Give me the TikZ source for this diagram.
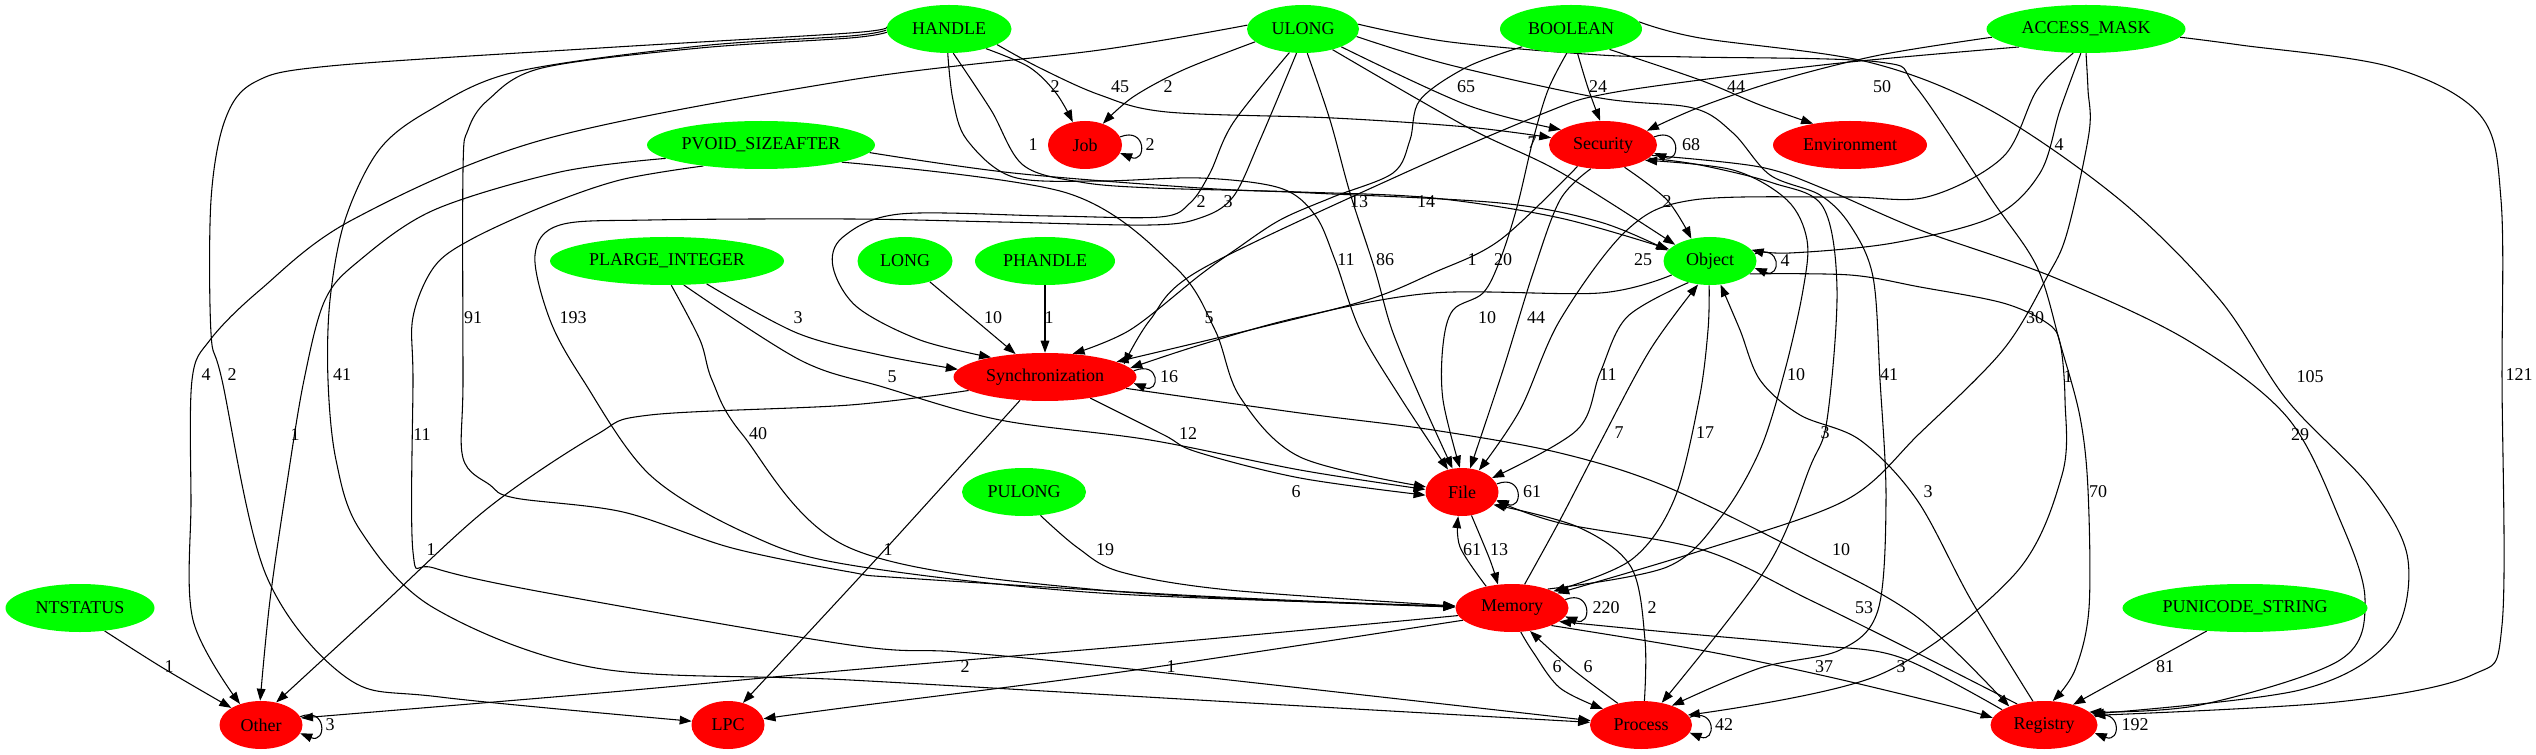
\documentclass[tikz,border=0pt]{standalone}
\usepackage{fontspec}
\setmainfont{Liberation Serif}
\usetikzlibrary{shapes.geometric,arrows.meta}
\definecolor{gvgreen}{HTML}{00FF00}
\definecolor{gvred}{HTML}{FF0000}
\newcommand\gvfont{\fontsize{13.5}{15}\selectfont}
\tikzset{
  tnode/.style={ellipse, inner sep=0pt, minimum height=36pt, font=\gvfont, text=black},
  gn/.style={tnode, fill=gvgreen},
  rn/.style={tnode, fill=gvred},
  conn/.style={draw=black, line width=0.8pt, -{Triangle[length=9pt,width=6.5pt]}},
  lbl/.style={font=\gvfont, inner sep=0pt, text=black},
}
\newcommand\gvE[1]{\draw[conn] plot[smooth,tension=0.55] coordinates {#1};}
\newcommand\gvloop[2]{\draw[conn] (#1.#2) .. controls +(20pt,8pt) and +(20pt,-8pt) .. (#1.-#2);}
\pgfdeclarelayer{bg}
\pgfsetlayers{bg,main}
\begin{document}
\begin{tikzpicture}[x=0.75pt,y=-0.75pt]
\useasboundingbox (0,0) rectangle (2536,755);
\begin{pgfonlayer}{bg}
\fill[white] (0,0) rectangle (2536,755);
\end{pgfonlayer}
% nodes
\node[gn,minimum width=93.75pt] (HANDLE) at (949,29) {HANDLE};
\node[gn,minimum width=84pt] (ULONG) at (1303,29) {ULONG};
\node[gn,minimum width=106.5pt] (BOOLEAN) at (1571,29) {BOOLEAN};
\node[gn,minimum width=149.25pt] (ACCESS) at (2086,29) {ACCESS\_MASK};
\node[gn,minimum width=171pt] (PVOID) at (761,145) {PVOID\_SIZEAFTER};
\node[rn,minimum width=55.5pt] (Job) at (1085,145) {Job};
\node[rn,minimum width=81pt] (Security) at (1603,145) {Security};
\node[rn,minimum width=115.5pt] (Environment) at (1850,145) {Environment};
\node[gn,minimum width=175.5pt] (PLARGE) at (667,261) {PLARGE\_INTEGER};
\node[gn,minimum width=71.25pt] (LONG) at (905,261) {LONG};
\node[gn,minimum width=105pt] (PHANDLE) at (1045,261) {PHANDLE};
\node[gn,minimum width=69.75pt] (Object) at (1710,261) {Object};
\node[rn,minimum width=137.25pt] (Sync) at (1045,377) {Synchronization};
\node[gn,minimum width=93pt] (PULONG) at (1024,492) {PULONG};
\node[rn,minimum width=54.75pt] (File) at (1462,492) {File};
\node[gn,minimum width=111.75pt] (NTSTATUS) at (80,608) {NTSTATUS};
\node[rn,minimum width=84.75pt] (Memory) at (1512,608) {Memory};
\node[gn,minimum width=183.75pt] (PUNICODE) at (2245,608) {PUNICODE\_STRING};
\node[rn,minimum width=62.25pt] (Other) at (261,725) {Other};
\node[rn,minimum width=54.75pt] (LPC) at (728,725) {LPC};
\node[rn,minimum width=76.5pt] (Process) at (1641,725) {Process};
\node[rn,minimum width=80.25pt] (Registry) at (2044,725) {Registry};
\begin{pgfonlayer}{bg}
% HANDLE
\gvE{(HANDLE.-28) (1029,67) (1056,93) (Job.118)}
\gvE{(HANDLE.-18) (1040,68) (1100,95) (1167,112) (1333,118) (1467,127) (Security.172)}
\gvE{(HANDLE.178) (850,33) (600,48) (330,66) (255,82) (225,120) (211,200) (211,333) (222,380) (266,575) (347,678) (440,697) (LPC.174)}
\gvE{(HANDLE.181) (850,36) (700,46) (515,72) (430,110) (379,150) (345,220) (330,300) (328,380) (336,460) (360,530) (434,608) (596,668) (850,680) (1250,703) (Process.177)}
\gvE{(HANDLE.183) (850,38) (700,48) (542,68) (488,100) (468,130) (463,170) (463,380) (463,458) (490,485) (515,498) (623,512) (732,548) (850,572) (904,578) (1200,596) (Memory.179)}
\gvE{(HANDLE.-80) (991,110) (1023,165) (1080,182) (1153,188) (1300,192) (1433,198) (1560,218) (Object.164)}
\gvE{(HANDLE.-93) (953,100) (967,140) (1013,177) (1100,181) (1200,178) (1280,188) (1315,215) (1335,260) (1360,330) (1400,397) (File.122)}
% ULONG
\gvE{(ULONG.-165) (1183,70) (1133,97) (Job.50)}
\gvE{(ULONG.-25) (1467,105) (Security.160)}
\gvE{(ULONG.176) (1100,50) (850,80) (542,140) (352,220) (260,290) (210,340) (192,380) (191,500) (193,620) (Other.135)}
\gvE{(ULONG.-120) (1233,123) (1210,173) (1190,203) (1160,217) (1050,216) (900,214) (843,237) (833,267) (857,307) (920,340) (Sync.160)}
\gvE{(ULONG.-105) (1260,140) (1233,197) (1200,218) (1150,225) (1000,222) (850,219) (650,220) (560,225) (535,255) (550,320) (583,380) (650,475) (750,535) (850,565) (1100,593) (Memory.178)}
\gvE{(ULONG.-80) (1330,120) (1350,193) (1375,270) (1392,330) (1420,397) (File.112)}
\gvE{(ULONG.-35) (1467,127) (1560,172) (Object.155)}
\gvE{(ULONG.-8) (1450,65) (1600,98) (1693,108) (1733,133) (1770,175) (1820,195) (1850,225) (1873,277) (1880,380) (1886,500) (1878,610) (1840,650) (1760,668) (Process.32)}
\gvE{(ULONG.5) (1450,42) (1600,55) (1690,57) (1879,62) (1916,87) (1992,200) (2037,267) (2060,343) (2080,417) (2088,490) (2089,608) (2075,670) (Registry.70)}
% BOOLEAN
\gvE{(BOOLEAN.-75) (1588,88) (Security.97)}
\gvE{(BOOLEAN.-28) (1700,80) (1760,105) (Environment.150)}
\gvE{(BOOLEAN.-160) (1467,67) (1420,100) (1410,140) (1393,173) (1333,197) (1280,220) (1235,250) (1200,275) (1130,330) (Sync.40)}
\gvE{(BOOLEAN.-100) (1548,90) (1533,140) (1517,207) (1500,260) (1483,293) (1453,310) (1443,345) (1443,400) (File.95)}
\gvE{(BOOLEAN.6) (1700,38) (1868,62) (1990,110) (2120,200) (2220,300) (2287,400) (2370,487) (2408,560) (2390,640) (2300,690) (Registry.13)}
% ACCESS_MASK
\gvE{(ACCESS.-175) (1880,55) (1780,80) (1700,107) (Security.18)}
\gvE{(ACCESS.-165) (1850,62) (1700,80) (1600,95) (1547,112) (1400,175) (1200,270) (1150,320) (Sync.9)}
\gvE{(ACCESS.-118) (2037,90) (2003,157) (1927,197) (1843,197) (1693,200) (1627,230) (1560,320) (1520,410) (File.52)}
\gvE{(ACCESS.-102) (2060,110) (2040,173) (1993,217) (1893,243) (1790,253) (Object.15)}
\gvE{(ACCESS.-90) (2088,90) (2089,133) (2067,233) (2047,277) (2003,350) (1920,433) (1846,500) (1703,550) (Memory.18)}
\gvE{(ACCESS.-5) (2240,45) (2391,67) (2480,115) (2501,200) (2502,380) (2502,625) (2472,675) (2337,702) (Registry.11)}
% PVOID_SIZEAFTER
\gvE{(PVOID.-172) (560,172) (434,210) (360,260) (325,300) (304,380) (287,483) (270,600) (Other.92)}
\gvE{(PVOID.-160) (620,180) (542,207) (470,240) (434,267) (413,317) (413,380) (413,552) (434,568) (542,592) (850,645) (958,652) (1121,668) (Process.175)}
\gvE{(PVOID.-4) (1013,173) (1200,188) (1311,193) (1500,203) (1600,222) (Object.166)}
\gvE{(PVOID.-12) (1067,193) (1175,267) (1215,330) (1240,397) (1300,457) (File.172)}
% PLARGE_INTEGER
\gvE{(PLARGE.-30) (797,333) (880,355) (Sync.175)}
\gvE{(PLARGE.-80) (700,340) (712,380) (742,434) (850,548) (1100,590) (Memory.179)}
\gvE{(PLARGE.-55) (800,360) (883,387) (1000,420) (1150,440) (1300,470) (File.176)}
% single sources
\draw[conn] (LONG.-40) -- (Sync.142);
\draw[conn] (PHANDLE.-90) -- (Sync.90);
\gvE{(PULONG.-55) (1078,548) (1121,572) (1229,590) (Memory.178)}
\gvE{(NTSTATUS.-43) (163,668) (Other.150)}
\draw[conn] (PUNICODE.-149) -- (Registry.35);
% Security
\gvE{(Security.-46) (1667,200) (Object.130)}
\gvE{(Security.-117) (1560,200) (1533,273) (1503,370) (File.71)}
\gvE{(Security.-140) (1500,240) (1433,273) (1367,300) (1250,330) (Sync.12)}
\gvE{(Security.-16) (1700,165) (1773,183) (1823,207) (1837,290) (1827,420) (1810,467) (1767,567) (Process.47)}
\gvE{(Security.-12) (1760,167) (1827,190) (1920,230) (2053,277) (2187,340) (2287,417) (2340,520) (2365,600) (2340,660) (2200,705) (Registry.16)}
\gvE{(Memory.28) (1667,567) (1721,517) (1760,450) (1785,370) (1803,290) (1807,240) (1787,200) (1733,170) (Security.-20)}
% Object
\gvE{(Object.-160) (1600,293) (1433,293) (1300,317) (1200,345) (Sync.6)}
\gvE{(Object.-135) (1627,317) (1600,373) (1577,430) (File.25)}
\gvE{(Object.-92) (1708,330) (1699,400) (1674,500) (1631,560) (Memory.22)}
\gvE{(Object.-18) (1850,275) (1920,287) (2003,303) (2047,323) (2060,343) (2065,400) (2062,475) (2014,575) (1879,675) (Process.12)}
\gvE{(Registry.115) (1971,600) (1917,500) (1860,440) (1800,415) (1760,380) (1740,330) (Object.-66)}
% Synchronization
\gvE{(Sync.-25) (1164,435) (1197,452) (1300,478) (File.185)}
\gvE{(Sync.-170) (850,405) (650,415) (596,435) (488,508) (379,608) (Other.56)}
\gvE{(Sync.-137) (880,555) (LPC.56)}
\gvE{(Sync.-8) (1300,413) (1433,430) (1560,453) (1667,487) (1810,557) (1917,617) (Registry.152)}
% File / Memory / Process / Registry
\gvE{(File.-68) (1490,560) (Memory.121)}
\gvE{(Memory.140) (1460,547) (File.-99)}
\gvE{(Memory.-172) (1175,642) (850,670) (600,693) (Other.10)}
\gvE{(Memory.-166) (1121,672) (850,707) (LPC.10)}
\gvE{(Memory.-70) (1533,652) (1560,688) (Process.157)}
\gvE{(Process.137) (1571,668) (Memory.-52)}
\gvE{(Memory.62) (1560,520) (1600,443) (1650,350) (Object.-117)}
\gvE{(Memory.-24) (1700,650) (1825,676) (1950,706) (Registry.172)}
\gvE{(Registry.160) (1899,657) (1810,645) (1667,632) (Memory.-16)}
\gvE{(Process.82) (1645,640) (1631,567) (1578,527) (File.-22)}
\gvE{(Registry.142) (1917,653) (1810,600) (1703,550) (1560,523) (File.-14)}
% self loops
\gvloop{Job}{13}
\gvloop{Security}{9}
\gvloop{Object}{9}
\gvloop{Sync}{4}
\gvloop{File}{13}
\gvloop{Memory}{9}
\gvloop{Other}{12}
\gvloop{Process}{9}
\gvloop{Registry}{9}
\end{pgfonlayer}
% edge labels
\node[lbl] (l01) at (1055,87) {2};
\node[lbl] (l02) at (1120,87) {45};
\node[lbl] (l03) at (1168,87) {2};
\node[lbl] (l04) at (1466,87) {65};
\node[lbl] (l05) at (1598,87) {24};
\node[lbl] (l06) at (1736,87) {44};
\node[lbl] (l07) at (1882,87) {50};
\node[lbl] (l08) at (1033,145) {1};
\node[lbl] (l09) at (1532,143) {7};
\node[lbl] (l10) at (2059,145) {4};
\node[lbl] (l11) at (1201,202) {2};
\node[lbl] (l12) at (1228,202) {3};
\node[lbl] (l13) at (1359,202) {13};
\node[lbl] (l14) at (1426,202) {14};
\node[lbl] (l15) at (1667,202) {2};
\node[lbl] (l16) at (1346,260) {11};
\node[lbl] (l17) at (1385,260) {86};
\node[lbl] (l18) at (1472,260) {1};
\node[lbl] (l19) at (1503,260) {20};
\node[lbl] (l20) at (1643,260) {25};
\node[lbl] (l21) at (473,318) {91};
\node[lbl] (l22) at (573,318) {193};
\node[lbl] (l23) at (798,318) {3};
\node[lbl] (l24) at (993,318) {10};
\node[lbl] (l25) at (1049,318) {1};
\node[lbl] (l26) at (1209,318) {5};
\node[lbl] (l27) at (1487,318) {10};
\node[lbl] (l28) at (1536,318) {44};
\node[lbl] (l29) at (2035,318) {30};
\node[lbl] (l30) at (206,375) {4};
\node[lbl] (l31) at (232,375) {2};
\node[lbl] (l32) at (342,375) {41};
\node[lbl] (l33) at (892,377) {5};
\node[lbl] (l34) at (1608,375) {11};
\node[lbl] (l35) at (1796,375) {10};
\node[lbl] (l36) at (1889,375) {41};
\node[lbl] (l37) at (2068,377) {1};
\node[lbl] (l38) at (2310,377) {105};
\node[lbl] (l39) at (2519,375) {121};
\node[lbl] (l40) at (295,435) {1};
\node[lbl] (l41) at (422,435) {11};
\node[lbl] (l42) at (758,434) {40};
\node[lbl] (l43) at (1188,434) {12};
\node[lbl] (l44) at (1619,433) {7};
\node[lbl] (l45) at (1705,433) {17};
\node[lbl] (l46) at (1825,433) {3};
\node[lbl] (l47) at (2300,435) {29};
\node[lbl] (l48) at (1296,492) {6};
\node[lbl] (l49) at (1928,492) {3};
\node[lbl] (l50) at (2098,492) {70};
\node[lbl] (l51) at (431,550) {1};
\node[lbl] (l52) at (888,550) {1};
\node[lbl] (l53) at (1105,550) {19};
\node[lbl] (l54) at (1472,550) {61};
\node[lbl] (l55) at (1499,550) {13};
\node[lbl] (l56) at (1841,550) {10};
\node[lbl] (l57) at (1652,608) {2};
\node[lbl] (l58) at (1864,608) {53};
\node[lbl] (l59) at (169,667) {1};
\node[lbl] (l60) at (965,667) {2};
\node[lbl] (l61) at (1171,667) {1};
\node[lbl] (l62) at (1557,667) {6};
\node[lbl] (l63) at (1588,667) {6};
\node[lbl] (l64) at (1824,667) {37};
\node[lbl] (l65) at (1901,667) {3};
\node[lbl] (l66) at (2165,667) {81};
% loop labels
\node[lbl] (l67) at (1150,145) {2};
\node[lbl] (l68) at (1691,145) {68};
\node[lbl] (l69) at (1785,261) {4};
\node[lbl] (l70) at (1169,377) {16};
\node[lbl] (l71) at (1532,492) {61};
\node[lbl] (l72) at (1606,608) {220};
\node[lbl] (l73) at (330,725) {3};
\node[lbl] (l74) at (1724,725) {42};
\node[lbl] (l75) at (2135,725) {192};
\end{tikzpicture}
\end{document}
